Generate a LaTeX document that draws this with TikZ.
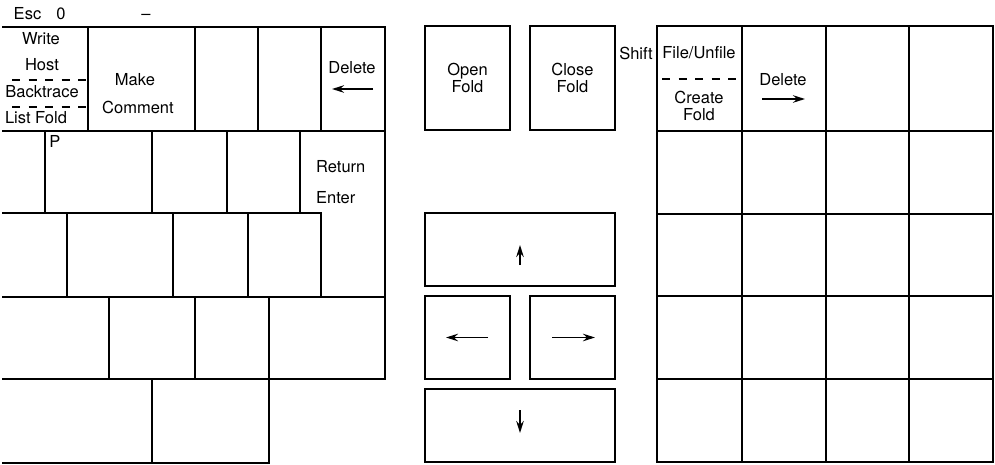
\documentclass[tikz,border=0pt]{standalone}
\usepackage{fontspec}
\setmainfont{TeX Gyre Heros}
\usetikzlibrary{arrows.meta}

\begin{document}
\begin{tikzpicture}[
  x=1pt,y=-1pt,
  line join=miter,
  keyline/.style={draw=black,line width=1.8pt,line cap=rect},
  cut/.style={draw=black,line width=1.5pt,dash pattern=on 8pt off 8.5pt},
  key/.style={draw=black,line width=1.8pt,minimum width=85pt,minimum height=104pt,inner sep=0pt,align=center},
  lab/.style={font=\fontsize{16.5}{17}\selectfont,inner sep=0pt,align=center},
  tip/.style={line width=1.7pt,-{Stealth[length=12pt,width=7.5pt]}}
]
  \useasboundingbox (0,0) rectangle (995,465);

  % Legends above the keys
  \node[lab] (esc)   at (27.5,14) {Esc};
  \node[lab] (zero)  at (61,14)   {0};
  \node[lab] (minus) at (146,17)  {--};

  % Main keyboard, left block
  \draw[keyline] (3,27) -- (385,27) -- (385,379);
  \draw[keyline] (3,131) -- (385,131);
  \draw[keyline] (3,213) -- (321,213);
  \draw[keyline] (3,297) -- (385,297);
  \draw[keyline] (3,379) -- (385,379);
  \draw[keyline] (3,463) -- (269,463);
  \foreach \x in {88,195,258,321} \draw[keyline] (\x,27) -- (\x,131);
  \foreach \x in {45,152,227,300} \draw[keyline] (\x,131) -- (\x,213);
  \foreach \x in {67,173,248,321} \draw[keyline] (\x,213) -- (\x,297);
  \foreach \x in {109,195,269} \draw[keyline] (\x,297) -- (\x,379);
  \foreach \x in {152,269} \draw[keyline] (\x,379) -- (\x,463);

  % Split key
  \draw[cut] (12,80) -- (88,80);
  \draw[cut] (12,107) -- (88,107);
  \node[lab] (write)     at (41,39)   {Write};
  \node[lab] (host)      at (42,65)   {Host};
  \node[lab] (backtrace) at (42,92)   {Backtrace};
  \node[lab] (listfold)  at (36,118)  {List Fold};

  \node[lab] (make)    at (135,80)  {Make};
  \node[lab] (comment) at (138,107) {Comment};

  \node[lab] (delleft) at (352,68) {Delete};
  \draw[tip] (373,89) -- (332,89);

  \node[lab] (pkey) at (55,141) {P};
  \node[lab,anchor=west] (return) at (316,167) {Return};
  \node[lab,anchor=west] (enter)  at (316,198) {Enter};

  % Fold keys
  \node[key,font=\fontsize{16.5}{17}\selectfont] (openfold)  at (467.5,78) {Open\\Fold};
  \node[key,font=\fontsize{16.5}{17}\selectfont] (closefold) at (572.5,78) {Close\\Fold};
  \node[lab] (shift) at (636,53) {Shift};

  % Cursor keys
  \node[key,minimum width=190pt,minimum height=73pt] (upkey)    at (520,249.5) {};
  \node[key,minimum height=83pt]                      (leftkey)  at (467.5,337.5) {};
  \node[key,minimum height=83pt]                      (rightkey) at (572.5,337.5) {};
  \node[key,minimum width=190pt,minimum height=73pt] (downkey)  at (520,425.5) {};
  \draw[tip] ([yshift=-15.5pt]upkey.center) -- ([yshift=4.5pt]upkey.center);
  \draw[tip] ([xshift=20.5pt]leftkey.center) -- ([xshift=-21.5pt]leftkey.center);
  \draw[tip] ([xshift=-20.5pt]rightkey.center) -- ([xshift=22.5pt]rightkey.center);
  \draw[tip] ([yshift=15.5pt]downkey.center) -- ([yshift=-7.5pt]downkey.center);

  % Keypad, right block
  \foreach \y in {26,131,214,296,379,462} \draw[keyline] (657,\y) -- (993,\y);
  \foreach \x in {657,742,826,909,993} \draw[keyline] (\x,26) -- (\x,462);
  \draw[cut] (662,79) -- (740,79);
  \node[lab] (fileunfile) at (699,53)    {File/Unfile};
  \node[lab] (createfold) at (699,105.5) {Create\\Fold};
  \node[lab] (delright)   at (783,80)    {Delete};
  \draw[tip] (762,99) -- (805,99);
\end{tikzpicture}
\end{document}
